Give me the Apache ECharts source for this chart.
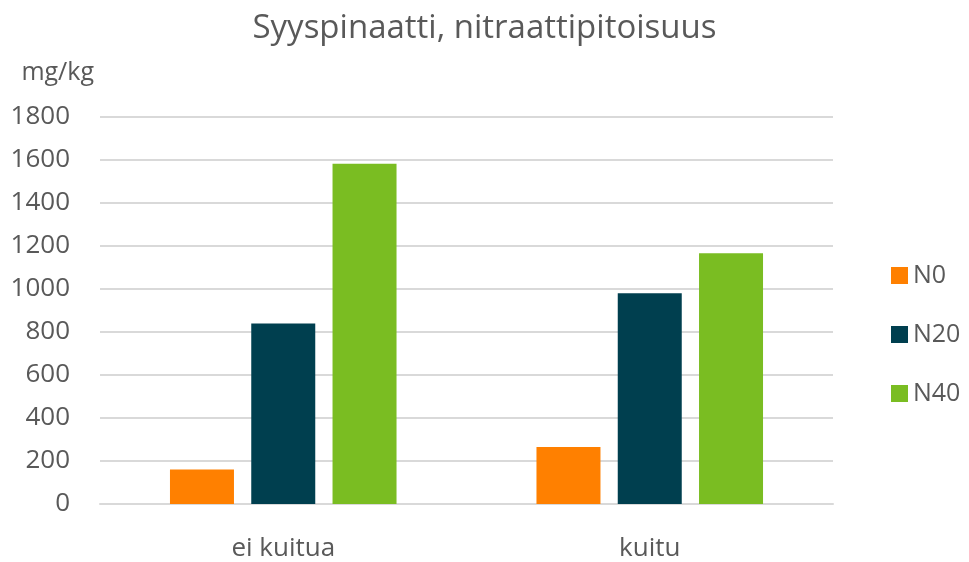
<!DOCTYPE html>
<html>
<head>
<meta charset="utf-8">
<script src="https://cdn.jsdelivr.net/npm/echarts@6/dist/echarts.min.js"></script>
<style>
  html, body { margin: 0; padding: 0; background: #fff; }
  #chart { width: 969px; height: 562px; }
</style>
</head>
<body>
<div id="chart"></div>
<script>
const categories = ["ei kuitua", "kuitu"];
const seriesNames = ["N0", "N20", "N40"];
const n0 = [160, 265];
const n20 = [840, 980];
const n40 = [1582, 1166];
const colors = ["#ff8000", "#003f4f", "#7abd22"];

const font = "'Open Sans', 'Noto Sans', sans-serif";
const textColor = "#595959";

const myChart = echarts.init(document.getElementById("chart"));
const values = [n0, n20, n40];

const option = {
  animation: false,
  title: {
    text: "Syyspinaatti, nitraattipitoisuus",
    left: "center",
    top: 7,
    textStyle: { fontFamily: font, fontSize: 33, fontWeight: "normal", color: textColor }
  },
  legend: {
    orient: "vertical",
    left: 886,
    top: 258,
    itemWidth: 17,
    itemHeight: 17,
    itemGap: 34,
    icon: "rect",
    textStyle: { fontFamily: font, fontSize: 25, color: textColor, lineHeight: 25 },
    data: seriesNames
  },
  grid: { left: 100, right: 136, top: 117, bottom: 58 },
  xAxis: {
    type: "category",
    data: categories,
    axisTick: { show: false },
    axisLine: { show: true, lineStyle: { color: "#d9d9d9", width: 2 } },
    axisLabel: { fontFamily: font, fontSize: 26, color: textColor, margin: 32 }
  },
  yAxis: {
    type: "value",
    name: "mg/kg",
    nameLocation: "end",
    nameGap: 44,
    nameTextStyle: { fontFamily: font, fontSize: 25, color: textColor, align: "right", verticalAlign: "middle", padding: [0, 6, 0, 0] },
    min: 0,
    max: 1800,
    interval: 200,
    axisLine: { show: false },
    axisTick: { show: false },
    splitLine: { lineStyle: { color: "#d9d9d9", width: 2 } },
    axisLabel: { fontFamily: font, fontSize: 26, color: textColor, margin: 30, formatter: (v) => String(v) }
  },
  series: seriesNames.map((name, i) => ({
    name: name,
    type: "bar",
    data: values[i],
    barWidth: 64,
    barGap: "27%",
    itemStyle: { color: colors[i] }
  }))
};

myChart.setOption(option);
window.addEventListener("resize", () => {
  myChart.resize();
});
</script>
</body>
</html>
